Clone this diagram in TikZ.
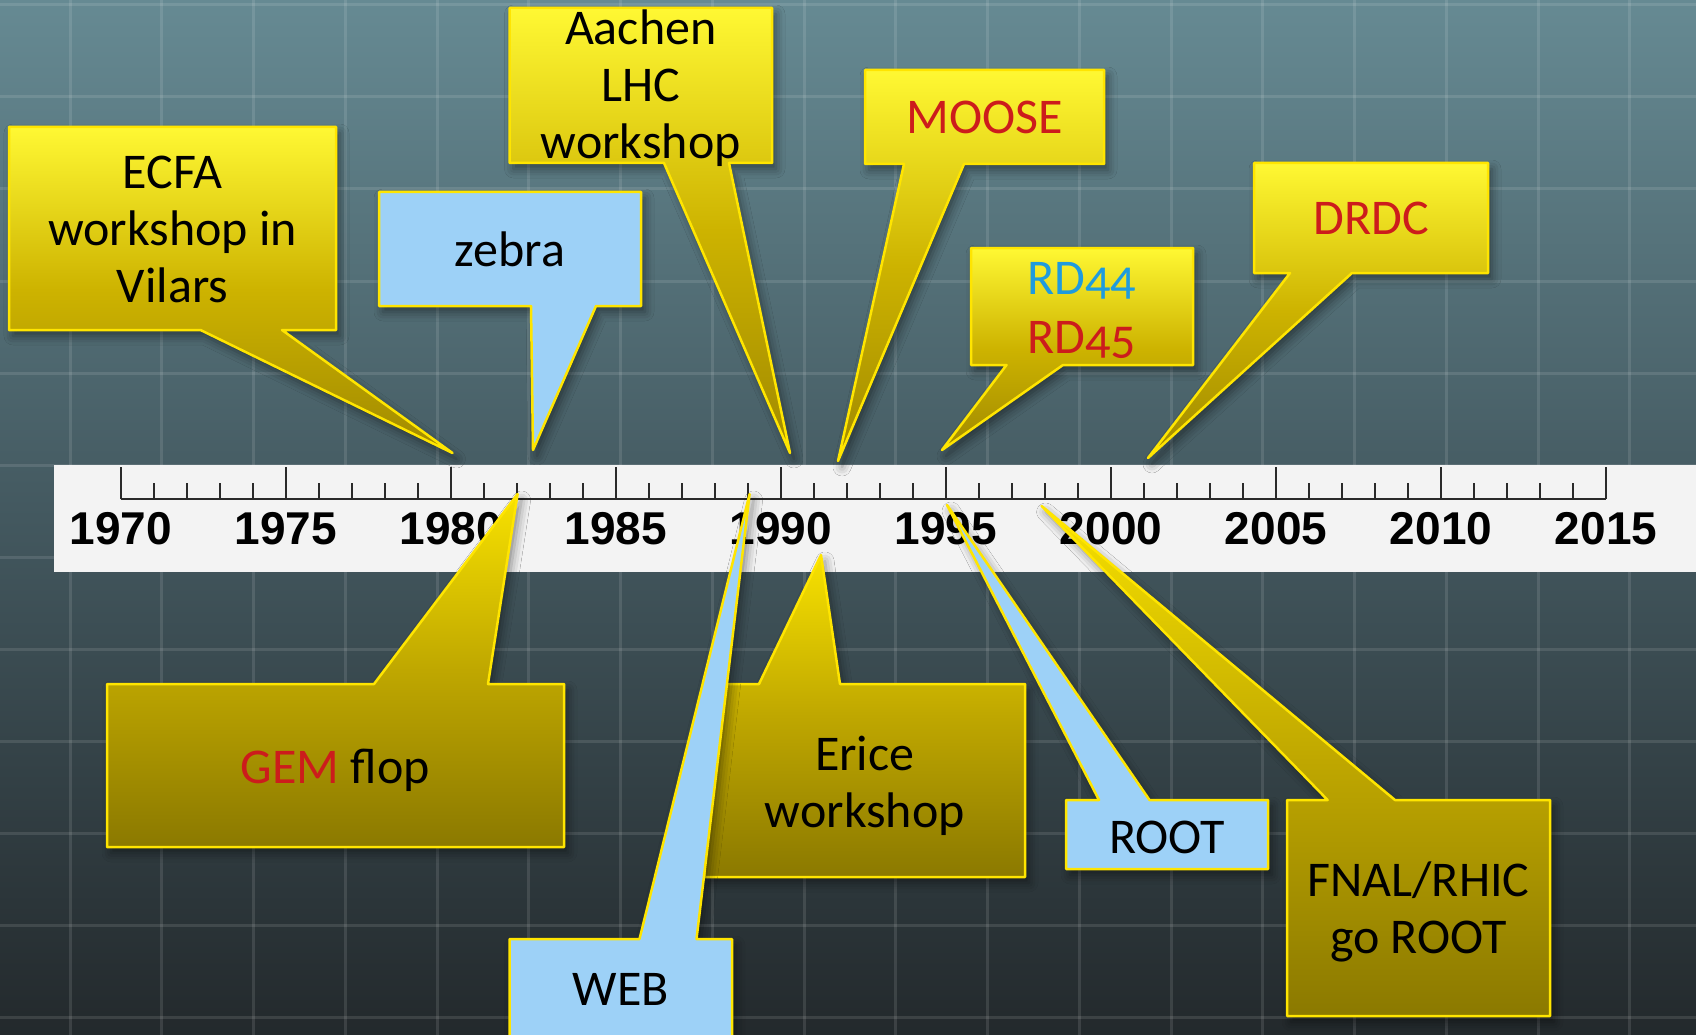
\documentclass[tikz,border=0pt]{standalone}
\usepackage{fontspec}
\setmainfont{Carlito}
\newfontfamily\yearfont{Liberation Sans}
\newfontfamily\oldnums{Carlito}[Numbers=OldStyle]
\usetikzlibrary{shadows.blur}

\definecolor{bgtop}{HTML}{668A93}
\definecolor{bgmid}{HTML}{43585F}
\definecolor{bgbot}{HTML}{23292C}
\definecolor{bandgray}{HTML}{F3F3F3}
\definecolor{tickgray}{HTML}{2A2A2A}
\definecolor{edgeyellow}{HTML}{FFE500}
\definecolor{goldA}{HTML}{FFF833}
\definecolor{goldB}{HTML}{CDB300}
\definecolor{goldC}{HTML}{A08900}
\definecolor{oliveA}{HTML}{F8E200}
\definecolor{oliveB}{HTML}{BFA700}
\definecolor{oliveC}{HTML}{8B7900}
\definecolor{skyblue}{HTML}{9DD1F7}
\definecolor{labelred}{HTML}{CC1C1C}
\definecolor{labelblue}{HTML}{1F9BDE}

% callout with its pointer leaving the south side of box #2
\newcommand{\calloutdown}[5]{%
  \draw[#1] (#2.north west) -- (#2.north east) -- (#2.south east)
    -- ([xshift=#4]#2.south west) -- (#5) -- ([xshift=#3]#2.south west)
    -- (#2.south west) -- cycle;}
% callout with its pointer leaving the north side of box #2
\newcommand{\calloutup}[5]{%
  \draw[#1] (#2.south west) -- (#2.south east) -- (#2.north east)
    -- ([xshift=#4]#2.north west) -- (#5) -- ([xshift=#3]#2.north west)
    -- (#2.north west) -- cycle;}

\begin{document}
\begin{tikzpicture}[x=1pt, y=-1pt,
    frame/.style={inner sep=0pt, outer sep=0pt},
    label/.style={font=\fontsize{50}{57}\selectfont, align=center, inner sep=0pt},
    year/.style={font=\yearfont\bfseries\fontsize{46}{50}\selectfont, inner sep=0pt},
    gridline/.style={white, opacity=0.11, line width=3pt},
    tick/.style={tickgray, line width=2pt},
    shade/.style={blur shadow={shadow xshift=4pt, shadow yshift=-6pt,
        shadow blur radius=9pt, shadow opacity=45}},
    yellowdown/.style={shade, draw=edgeyellow, line width=2.5pt, line join=round,
        top color=goldA, bottom color=goldC, middle color=goldB},
    yellowup/.style={shade, draw=edgeyellow, line width=2.5pt, line join=round,
        top color=oliveA, bottom color=oliveC, middle color=oliveB},
    bluebox/.style={shade, draw=edgeyellow, line width=2.5pt, line join=round,
        fill=skyblue}]
  \useasboundingbox (0,0) rectangle (1696,1035);

  % backdrop and its grid
  \fill[top color=bgtop, bottom color=bgbot, middle color=bgmid]
    (0,0) rectangle (1696,1035);
  \foreach \k in {0,...,17}
    \draw[gridline] ({70+91.76*\k},0) -- ({70+91.76*\k},1035);
  \foreach \k in {0,...,11}
    \draw[gridline] (0,{5+92*\k}) -- (1696,{5+92*\k});

  % time axis, one tick per year
  \fill[bandgray] (54,465) rectangle (1700,572);
  \draw[tick] (121,499) -- (1606,499);
  \foreach \k in {0,...,45}
    \draw[tick] ({121+33*\k},499) -- ({121+33*\k},483);
  \foreach \yr in {1970,1975,...,2015} {
    \draw[tick] ({121+33*(\yr-1970)},499) -- ({121+33*(\yr-1970)},467);
    \node[year] (y\yr) at ({121+33*(\yr-1970)},529) {\yr};
  }

  % ECFA:
  %   workshop in Vilars
  \node[frame, minimum width=327pt, minimum height=203pt] (ecfa) at (172.5,228.5) {};
  \coordinate (ecfa-tip) at (452.5,453);
  \calloutdown{yellowdown}{ecfa}{191.5}{273}{ecfa-tip}
  \node[label] (ecfa-txt) at ([yshift=-1pt]ecfa) {ECFA\\workshop in\\Vilars};

  % zebra
  \node[frame, minimum width=262pt, minimum height=114pt] (zebra) at (510,249) {};
  \coordinate (zebra-tip) at (533,450);
  \calloutdown{bluebox}{zebra}{152}{217}{zebra-tip}
  \node[label] (zebra-txt) at (zebra) {zebra};

  % Aachen:
  %   LHC workshop, the text runs over the bottom edge
  \node[frame, minimum width=262.5pt, minimum height=155pt] (aachen) at (640.75,85.5) {};
  \coordinate (aachen-tip) at (790,453);
  \calloutdown{yellowdown}{aachen}{154.5}{219.5}{aachen-tip}
  \node[label] (aachen-txt) at ([yshift=-3pt]aachen) {Aachen\\LHC\\workshop};

  % MOOSE
  \node[frame, minimum width=239pt, minimum height=94pt] (moose) at (984.5,117) {};
  \coordinate (moose-tip) at (838,461);
  \calloutdown{yellowdown}{moose}{39}{99}{moose-tip}
  \node[label, text=labelred] (moose-txt) at (moose) {MOOSE};

  % RD44 / RD45
  \node[frame, minimum width=222pt, minimum height=117pt] (rd) at (1082,306.5) {};
  \coordinate (rd-tip) at (942,450);
  \calloutdown{yellowdown}{rd}{35.5}{92}{rd-tip}
  \node[label, font=\oldnums\fontsize{50}{59}\selectfont] (rd-txt) at ([yshift=-4pt]rd)
    {\textcolor{labelblue}{RD44}\\\textcolor{labelred}{RD45}};

  % DRDC
  \node[frame, minimum width=234pt, minimum height=110pt] (drdc) at (1371,218) {};
  \coordinate (drdc-tip) at (1148,458);
  \calloutdown{yellowdown}{drdc}{36}{98}{drdc-tip}
  \node[label, text=labelred] (drdc-txt) at (drdc) {DRDC};

  % GEM flop
  \node[frame, minimum width=457pt, minimum height=163pt] (gem) at (335.5,765.5) {};
  \coordinate (gem-tip) at (517.6,494);
  \calloutup{yellowup}{gem}{267}{381}{gem-tip}
  \node[label] (gem-txt) at ([yshift=-5pt]gem) {\textcolor{labelred}{GEM} flop};

  % Erice workshop
  \node[frame, minimum width=320.4pt, minimum height=193pt] (erice) at (864.8,780.5) {};
  \coordinate (erice-tip) at (821,555);
  \calloutup{yellowup}{erice}{54.4}{135.4}{erice-tip}
  \node[label] (erice-txt) at ([yshift=-5pt]erice) {Erice\\workshop};

  % WEB:
  %   drawn after Erice, its pointer crosses that box
  \node[frame, minimum width=222.5pt, minimum height=101pt] (web) at (620.75,989.5) {};
  \coordinate (web-tip) at (749.6,494);
  \calloutup{bluebox}{web}{130}{187}{web-tip}
  \node[label] (web-txt) at (web) {WEB};

  % ROOT
  \node[frame, minimum width=202pt, minimum height=69pt] (root) at (1167,834.5) {};
  \coordinate (root-tip) at (947,505);
  \calloutup{bluebox}{root}{33}{83.5}{root-tip}
  \node[label] (root-txt) at ([yshift=-3pt]root) {ROOT};

  % FNAL/RHIC go ROOT
  \node[frame, minimum width=263pt, minimum height=216pt] (fnal) at (1418.5,908) {};
  \coordinate (fnal-tip) at (1041.6,506);
  \calloutup{yellowup}{fnal}{40.6}{108}{fnal-tip}
  \node[label] (fnal-txt) at ([yshift=-4pt]fnal) {FNAL/RHIC\\go ROOT};
\end{tikzpicture}
\end{document}
